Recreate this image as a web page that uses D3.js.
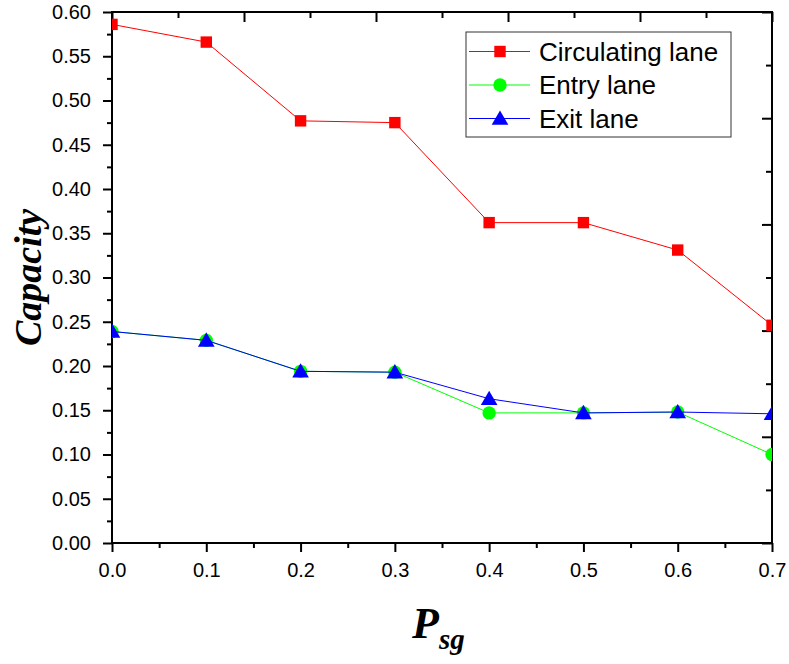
<!DOCTYPE html>
<meta charset="utf-8">
<style>
body { margin: 0; background: #fff; }
.axis line { stroke: #000; stroke-width: 2; }
.axis path { display: none; }
.legend text { font-family: "Liberation Sans", Arial, sans-serif; font-size: 26px; fill: #000; }
</style>
<svg width="789" height="664"></svg>
<script src="https://d3js.org/d3.v7.min.js"></script>
<script>

var psg = [0.0, 0.1, 0.2, 0.3, 0.4, 0.5, 0.6, 0.7];
var circulating = [0.586, 0.566, 0.477, 0.475, 0.362, 0.362, 0.331, 0.246];
var entry = [0.239, 0.229, 0.194, 0.193, 0.147, 0.147, 0.148, 0.100];
var exit = [0.239, 0.229, 0.194, 0.193, 0.163, 0.147, 0.148, 0.146];
var xTicks = [0.0, 0.1, 0.2, 0.3, 0.4, 0.5, 0.6, 0.7];
var yTicks = [0.00, 0.05, 0.10, 0.15, 0.20, 0.25, 0.30, 0.35, 0.40, 0.45, 0.50, 0.55, 0.60];
var seriesNames = ["Circulating lane", "Entry lane", "Exit lane"];

var svg = d3.select("svg"),
    margin = {top: 12, right: 17, bottom: 121, left: 112},
    width = +svg.attr("width") - margin.left - margin.right,
    height = +svg.attr("height") - margin.top - margin.bottom;

var x = d3.scaleLinear().domain([0, 0.7]).range([0, width]),
    y = d3.scaleLinear().domain([0, 0.6]).range([height, 0]);

var g = svg.append("g")
    .attr("transform", "translate(" + margin.left + "," + margin.top + ")");

g.append("clipPath").attr("id", "plotclip")
  .append("rect").attr("width", width).attr("height", height);

// minor ticks
g.append("g").attr("class", "axis")
    .call(d3.axisLeft(y).tickValues(d3.range(0, 12).map(function(i) { return 0.025 + i * 0.05; }))
      .tickSize(5).tickFormat(""));
g.append("g").attr("class", "axis")
    .attr("transform", "translate(0," + height + ")")
    .call(d3.axisBottom(x).tickValues([0.05, 0.15, 0.25, 0.35, 0.45, 0.55, 0.65])
      .tickSize(5).tickFormat(""));

// major ticks
var yAx = g.append("g").attr("class", "axis")
    .call(d3.axisLeft(y).tickValues(yTicks).tickSize(9).tickPadding(12).tickFormat(d3.format(".2f")));
var xAx = g.append("g").attr("class", "axis")
    .attr("transform", "translate(0," + height + ")")
    .call(d3.axisBottom(x).tickValues(xTicks).tickSize(9).tickPadding(11).tickFormat(d3.format(".1f")));
[yAx, xAx].forEach(function(a) {
  a.attr("font-size", null).attr("font-family", null);
  a.selectAll("text")
      .style("font-family", "'Liberation Sans', Arial, sans-serif")
      .style("font-size", "20px")
      .attr("fill", "#000");
});

// top and right mirror ticks (inward)
var topS = d3.scaleLinear().domain([0, 10]).range([0, width]),
    rightS = d3.scaleLinear().domain([0, 10]).range([0, height]);
g.append("g").attr("class", "axis")
    .call(d3.axisTop(topS).tickValues([0, 2, 4, 6, 8, 10]).tickSize(-10).tickFormat(""));
g.append("g").attr("class", "axis")
    .call(d3.axisTop(topS).tickValues([1, 3, 5, 7, 9]).tickSize(-6).tickFormat(""));
g.append("g").attr("class", "axis")
    .attr("transform", "translate(" + width + ",0)")
    .call(d3.axisRight(rightS).tickValues([0, 2, 4, 6, 8, 10]).tickSize(-10).tickFormat(""));
g.append("g").attr("class", "axis")
    .attr("transform", "translate(" + width + ",0)")
    .call(d3.axisRight(rightS).tickValues([1, 3, 5, 7, 9]).tickSize(-6).tickFormat(""));

g.append("rect")
    .attr("width", width).attr("height", height)
    .attr("fill", "none").attr("stroke", "#000").attr("stroke-width", 2);

var colors = ["#ff0000", "#00ff00", "#0000ff"];
var series = [circulating, entry, exit];
var symbols = [d3.symbolSquare, d3.symbolCircle, d3.symbolTriangle];
var sizes = [130, 140, 120];

var line = d3.line()
    .x(function(d, i) { return x(psg[i]); })
    .y(function(d) { return y(d); });

var plot = g.append("g").attr("clip-path", "url(#plotclip)");

series.forEach(function(s, k) {
  plot.append("path")
      .datum(s)
      .attr("fill", "none")
      .attr("stroke", colors[k])
      .attr("stroke-width", 1)
      .attr("d", line);
  plot.selectAll(".pt" + k)
    .data(s)
    .enter().append("path")
      .attr("transform", function(d, i) {
        var dy = k == 2 ? 1.5 : 0;
        return "translate(" + x(psg[i]) + "," + (y(d) + dy) + ")";
      })
      .attr("d", d3.symbol().type(symbols[k]).size(sizes[k]))
      .attr("fill", colors[k]);
});

// legend
var lg = svg.append("g").attr("class", "legend");
lg.append("rect")
    .attr("x", 466).attr("y", 32).attr("width", 265).attr("height", 105)
    .attr("fill", "#fff").attr("stroke", "#333").attr("stroke-width", 1);
seriesNames.forEach(function(name, k) {
  var cy = 51.5 + k * 33.5;
  lg.append("line")
      .attr("x1", 469).attr("x2", 530).attr("y1", cy).attr("y2", cy)
      .attr("stroke", colors[k]).attr("stroke-width", 1);
  lg.append("path")
      .attr("transform", "translate(500," + (cy + (k == 2 ? 1.5 : 0)) + ")")
      .attr("d", d3.symbol().type(symbols[k]).size(sizes[k]))
      .attr("fill", colors[k]);
  lg.append("text")
      .attr("x", 539).attr("y", cy).attr("dy", "0.36em")
      .text(name);
});

// axis titles
svg.append("text")
    .attr("transform", "translate(41," + (margin.top + height / 2) + ") rotate(-90)")
    .attr("text-anchor", "middle")
    .style("font-family", "'Liberation Serif', serif")
    .style("font-weight", "bold").style("font-style", "italic")
    .style("font-size", "38px")
    .text("Capacity");

var xt = svg.append("text")
    .attr("x", 412).attr("y", 638)
    .style("font-family", "'Liberation Serif', serif")
    .style("font-weight", "bold").style("font-style", "italic")
    .style("font-size", "44px");
xt.append("tspan").text("P");
xt.append("tspan").attr("dy", 11).style("font-size", "29px").text("sg");

</script>
